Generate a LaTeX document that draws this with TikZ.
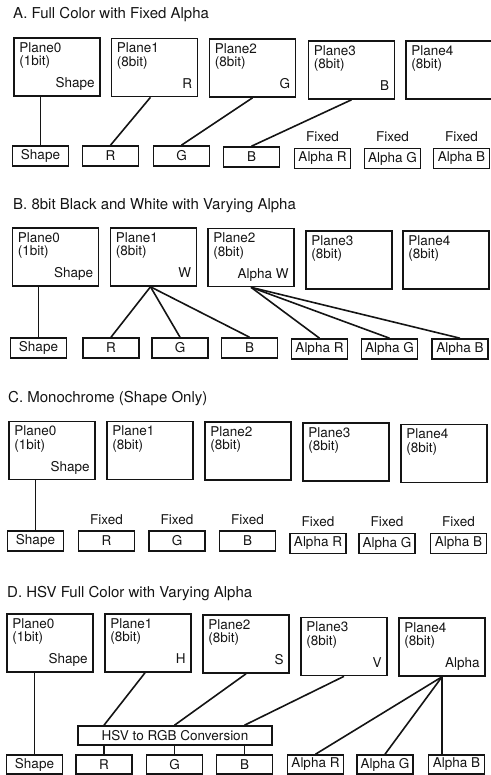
\documentclass[tikz,border=0pt]{standalone}
\usepackage{fontspec}
\setmainfont{TeX Gyre Heros}
\definecolor{DiagInk}{HTML}{141414}

\newcommand\planefont{\fontsize{13.5}{13.5}\selectfont}
\newcommand\headfont{\fontsize{15}{18}\selectfont}

\tikzset{
  plane/.style n args={3}{draw=DiagInk,line width=1.6pt,minimum width=86pt,minimum height=58pt,inner sep=0pt,
    label={[anchor=north west,xshift=6pt,yshift=-5pt,inner sep=0pt,align=left,font=\planefont,text=DiagInk]north west:{#1\\#2}},
    label={[anchor=base east,xshift=-6pt,yshift=9pt,inner sep=0pt,font=\planefont,text=DiagInk]south east:{#3}}},
  outbox/.style={draw=DiagInk,line width=1.6pt,minimum width=56pt,minimum height=20pt,inner sep=0pt,font=\planefont,text=DiagInk},
  fixed/.style={label={[label distance=2pt,font=\planefont,text=DiagInk]above:Fixed}},
  wire/.style={draw=DiagInk,line width=1.6pt},
  heading/.style={anchor=base west,inner sep=0pt,font=\headfont,text=DiagInk}
}

\begin{document}
\begin{tikzpicture}[x=1pt,y=-1pt]
    \useasboundingbox (0,0) rectangle (490,775);

    % A. full colour, fixed alpha
    \node[heading] (a-title) at (13,19) {A. Full Color with Fixed Alpha};
    \node[plane={Plane0}{(1bit)}{Shape}] (a-p0) at (57,67) {};
    \node[plane={Plane1}{(8bit)}{R}] (a-p1) at (154.5,67.5) {};
    \node[plane={Plane2}{(8bit)}{G}] (a-p2) at (252.5,68) {};
    \node[plane={Plane3}{(8bit)}{B}] (a-p3) at (351.5,70) {};
    \node[plane={Plane4}{(8bit)}{}] (a-p4) at (449,70) {};
    \node[outbox] (a-shape) at (40.5,156) {Shape};
    \node[outbox] (a-r) at (110.5,156) {R};
    \node[outbox] (a-g) at (181.5,156) {G};
    \node[outbox] (a-b) at (251.5,157) {B};
    \node[outbox,fixed] (a-ar) at (322.5,158.5) {Alpha R};
    \node[outbox,fixed] (a-ag) at (392.5,158.5) {Alpha G};
    \node[outbox,fixed] (a-ab) at (461.5,158.5) {Alpha B};
    \draw[wire] (a-shape.north) -- (a-shape.north |- a-p0.south);
    \draw[wire] ([xshift=-4pt]a-p1.south) -- (a-r.north);
    \draw[wire] (a-p2.south) -- (a-g.north);
    \draw[wire] (a-p3.south) -- (a-b.north);

    % B. 8bit black and white, varying alpha
    \node[heading] (b-title) at (13,210) {B. 8bit Black and White with Varying Alpha};
    \node[plane={Plane0}{(1bit)}{Shape}] (b-p0) at (55.5,257) {};
    \node[plane={Plane1}{(8bit)}{W}] (b-p1) at (153.5,257) {};
    \node[plane={Plane2}{(8bit)}{Alpha W}] (b-p2) at (251,257.5) {};
    \node[plane={Plane3}{(8bit)}{}] (b-p3) at (349,260) {};
    \node[plane={Plane4}{(8bit)}{}] (b-p4) at (446,260) {};
    \node[outbox] (b-shape) at (38.5,348) {Shape};
    \node[outbox] (b-r) at (111,348) {R};
    \node[outbox] (b-g) at (180,348) {G};
    \node[outbox] (b-b) at (249.5,348) {B};
    \node[outbox] (b-ar) at (319.5,349) {Alpha R};
    \node[outbox] (b-ag) at (389.5,349) {Alpha G};
    \node[outbox] (b-ab) at (460,349) {Alpha B};
    \draw[wire] (b-shape.north) -- (b-shape.north |- b-p0.south);
    \draw[wire] ([xshift=-3pt]b-p1.south) -- (b-r.north);
    \draw[wire] ([xshift=-3pt]b-p1.south) -- (b-g.north);
    \draw[wire] ([xshift=-3pt]b-p1.south) -- (b-b.north);
    \draw[wire] (b-p2.south) -- (b-ar.north);
    \draw[wire] (b-p2.south) -- (b-ag.north);
    \draw[wire] (b-p2.south) -- (b-ab.north);

    % C. monochrome
    \node[heading] (c-title) at (8,402) {C. Monochrome (Shape Only)};
    \node[plane={Plane0}{(1bit)}{Shape}] (c-p0) at (52,450.5) {};
    \node[plane={Plane1}{(8bit)}{}] (c-p1) at (150,450.5) {};
    \node[plane={Plane2}{(8bit)}{}] (c-p2) at (248,451) {};
    \node[plane={Plane3}{(8bit)}{}] (c-p3) at (346,452) {};
    \node[plane={Plane4}{(8bit)}{}] (c-p4) at (444,453.5) {};
    \node[outbox] (c-shape) at (35.5,541) {Shape};
    \node[outbox,fixed] (c-r) at (106.5,541) {R};
    \node[outbox,fixed] (c-g) at (177,541) {G};
    \node[outbox,fixed] (c-b) at (247.5,541) {B};
    \node[outbox,fixed] (c-ar) at (318,543.5) {Alpha R};
    \node[outbox,fixed] (c-ag) at (387,543.5) {Alpha G};
    \node[outbox,fixed] (c-ab) at (458.5,543.5) {Alpha B};
    \draw[wire] (c-shape.north) -- (c-shape.north |- c-p0.south);

    % D. HSV full colour, varying alpha
    \node[heading] (d-title) at (7,597) {D. HSV Full Color with Varying Alpha};
    \node[plane={Plane0}{(1bit)}{Shape}] (d-p0) at (50,643) {};
    \node[plane={Plane1}{(8bit)}{H}] (d-p1) at (148,643) {};
    \node[plane={Plane2}{(8bit)}{S}] (d-p2) at (246,644) {};
    \node[plane={Plane3}{(8bit)}{V}] (d-p3) at (344,646.5) {};
    \node[plane={Plane4}{(8bit)}{Alpha}] (d-p4) at (442,647) {};
    \node[outbox,minimum width=194pt,minimum height=19pt] (d-hsv) at (175,735.5) {HSV to RGB Conversion};
    \node[outbox,minimum height=19pt] (d-shape) at (34.5,764.5) {Shape};
    \node[outbox,minimum height=19pt] (d-r) at (104,764.5) {R};
    \node[outbox,minimum height=19pt] (d-g) at (174.5,764.5) {G};
    \node[outbox,minimum height=19pt] (d-b) at (244.5,764.5) {B};
    \node[outbox,minimum height=19pt] (d-ar) at (315.5,764.5) {Alpha R};
    \node[outbox,minimum height=19pt] (d-ag) at (385,764.5) {Alpha G};
    \node[outbox,minimum height=19pt] (d-ab) at (456.5,764.5) {Alpha B};
    \draw[wire] (d-shape.north) -- (d-shape.north |- d-p0.south);
    \draw[wire] ([xshift=-3pt]d-p1.south) -- (d-r.north |- d-hsv.north);
    \draw[wire] (d-p2.south) -- (d-g.north |- d-hsv.north);
    \draw[wire] (d-p3.south) -- (d-b.north |- d-hsv.north);
    \draw[wire] (d-hsv.south -| d-r.north) -- (d-r.north);
    \draw[wire] (d-hsv.south -| d-g.north) -- (d-g.north);
    \draw[wire] (d-hsv.south -| d-b.north) -- (d-b.north);
    \draw[wire] (d-p4.south) -- (d-ar.north);
    \draw[wire] (d-p4.south) -- (d-ag.north);
    \draw[wire] (d-p4.south) -- (d-p4.south |- d-ab.north);
\end{tikzpicture}
\end{document}
